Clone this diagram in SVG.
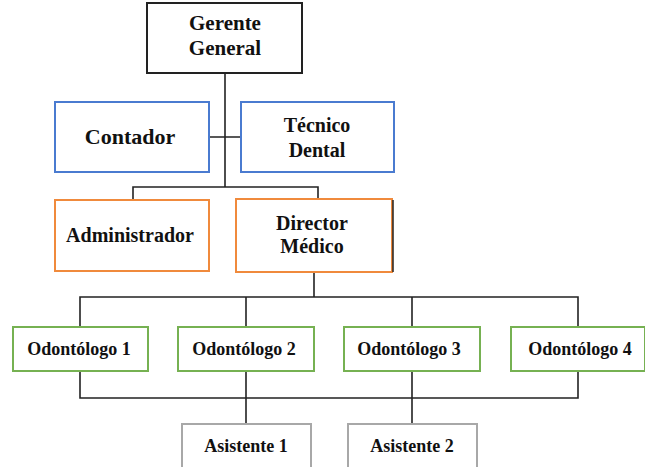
<svg xmlns="http://www.w3.org/2000/svg" width="645" height="467" viewBox="0 0 645 467">
<style>
text{font-family:'Liberation Serif','Times New Roman','DejaVu Serif',serif;font-weight:700;fill:#111;text-anchor:middle}
.bk{fill:#fff;stroke:#222;stroke-width:2}
.bl{fill:#fff;stroke:#4a7bd0;stroke-width:2}
.or{fill:#fff;stroke:#f08a3c;stroke-width:2}
.gr{fill:#fff;stroke:#76b152;stroke-width:2}
.gy{fill:#fff;stroke:#a8a8a8;stroke-width:2}
.c{fill:none;stroke:#222;stroke-width:1.6}
.t20{font-size:20px}.t18{font-size:18px}
</style>
<rect width="645" height="467" fill="#fff"/>
<g id="connectors">
<path class="c" d="M225 73V187M209 137H241M133 200V187H318V200"/>
<path class="c" d="M314 272V297M80 327V297H578V327"/>
<path class="c" d="M246 297V327M412 297V327"/>
<path class="c" d="M80 371V398H578V371M246 371V424M412 371V424"/>
</g>
<g id="gerente"><rect class="bk" x="147" y="3" width="155" height="70"/><text x="225" y="30" font-size="21">Gerente</text><text x="225" y="55" font-size="21">General</text></g>
<g id="contador"><rect class="bl" x="55" y="102" width="154" height="70"/><text x="130" y="144" font-size="22">Contador</text></g>
<g id="tecnico"><rect class="bl" x="241" y="102" width="153" height="70"/><text class="t20" x="317" y="132">Técnico</text><text class="t20" x="317" y="157">Dental</text></g>
<g id="administrador"><rect class="or" x="55" y="200" width="154" height="71"/><text class="t20" x="130" y="242">Administrador</text></g>
<g id="director"><rect class="or" x="236" y="199" width="156" height="73"/><line x1="393" y1="200" x2="393" y2="272" stroke="#222" stroke-width="1.5"/><text class="t20" x="312" y="230">Director</text><text class="t20" x="312" y="253">Médico</text></g>
<g id="odontologo1"><rect class="gr" x="13" y="327" width="135" height="44"/><text class="t18" x="79" y="355">Odontólogo 1</text></g>
<g id="odontologo2"><rect class="gr" x="178" y="327" width="136" height="44"/><text class="t18" x="244" y="355">Odontólogo 2</text></g>
<g id="odontologo3"><rect class="gr" x="344" y="327" width="136" height="44"/><text class="t18" x="409" y="355">Odontólogo 3</text></g>
<g id="odontologo4"><rect class="gr" x="511" y="327" width="134" height="44"/><text class="t18" x="580" y="355">Odontólogo 4</text></g>
<g id="asistente1"><rect class="gy" x="182" y="424" width="129" height="50"/><text class="t18" x="246" y="452">Asistente 1</text></g>
<g id="asistente2"><rect class="gy" x="348" y="424" width="129" height="50"/><text class="t18" x="412" y="452">Asistente 2</text></g>
</svg>
